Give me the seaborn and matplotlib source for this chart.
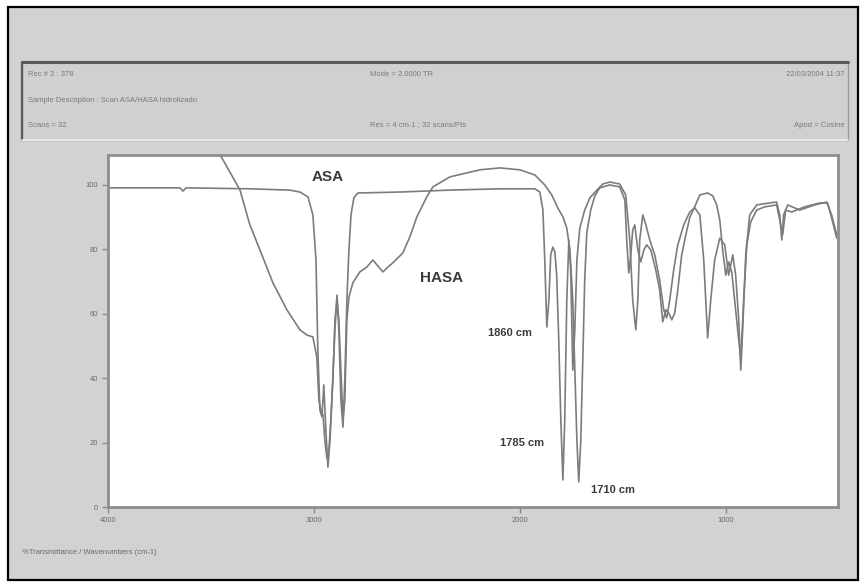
import matplotlib
matplotlib.use("Agg")
import matplotlib.pyplot as plt
from matplotlib.patches import Rectangle
from matplotlib.lines import Line2D
import pandas as pd
import seaborn as sns

# ---- data (wavenumber cm-1, %T) ----
asa_wn = [4000, 3699, 3651, 3636, 3621, 3311, 3117, 3068, 3029, 3005, 2990, 2981, 2971, 2961,
          2952, 2942, 2932, 2922, 2913, 2898, 2888, 2879, 2869, 2859, 2850, 2840, 2830, 2820,
          2806, 2787, 2583, 2340, 2097, 1927, 1903, 1888, 1879, 1869, 1859, 1850, 1840, 1830,
          1821, 1811, 1801, 1791, 1782, 1772, 1762, 1753, 1743, 1733, 1723, 1709, 1685, 1660,
          1626, 1597, 1563, 1515, 1486, 1466, 1452, 1437, 1427, 1418, 1403, 1388, 1369, 1345,
          1321, 1301, 1287, 1272, 1253, 1233, 1204, 1175, 1151, 1126, 1107, 1088, 1073, 1054,
          1029, 1005, 986, 966, 952, 937, 927, 918, 903, 884, 850, 787, 753, 738, 728, 719,
          699, 641, 568, 510, 486, 461]
asa_t = [99.1, 99.1, 99.1, 98.1, 99.1, 98.8, 98.4, 97.8, 96.3, 90.7, 76.7, 48.8, 30.1, 28.0,
         37.9, 23.9, 12.4, 20.8, 33.2, 55.0, 65.8, 55.0, 33.2, 24.8, 39.4, 64.3, 79.8, 90.7,
         96.0, 97.5, 97.8, 98.4, 98.8, 98.8, 97.8, 92.2, 76.7, 55.9, 64.3, 78.3, 80.7, 79.2,
         72.0, 51.9, 27.0, 8.4, 27.0, 64.3, 82.9, 73.6, 42.5, 55.0, 76.7, 86.6, 92.2, 96.0,
         98.4, 100.3, 100.9, 100.3, 96.9, 82.9, 64.3, 55.0, 64.3, 82.9, 90.7, 87.6, 82.9, 78.3,
         70.5, 61.2, 58.7, 64.3, 73.6, 81.4, 87.6, 91.6, 92.9, 90.7, 76.7, 52.5, 64.3, 76.7,
         83.5, 81.4, 72.0, 78.3, 72.0, 58.1, 42.5, 55.0, 78.3, 90.7, 93.8, 94.4, 94.7, 90.7,
         82.9, 90.7, 93.8, 92.2, 93.8, 94.7, 90.7, 84.5]

hasa_wn = [4000, 3553, 3481, 3447, 3408, 3359, 3311, 3262, 3199, 3131, 3068, 3034, 3005, 2986,
           2976, 2966, 2956, 2947, 2937, 2927, 2918, 2908, 2898, 2888, 2879, 2869, 2859, 2850,
           2840, 2830, 2811, 2777, 2743, 2714, 2689, 2665, 2641, 2617, 2568, 2534, 2500, 2452,
           2422, 2340, 2194, 2097, 2000, 1927, 1879, 1845, 1816, 1791, 1772, 1757, 1743, 1733,
           1723, 1714, 1704, 1694, 1685, 1675, 1656, 1636, 1612, 1563, 1515, 1490, 1481, 1471,
           1461, 1452, 1442, 1427, 1413, 1398, 1384, 1364, 1340, 1321, 1306, 1291, 1277, 1262,
           1248, 1233, 1214, 1194, 1175, 1151, 1126, 1088, 1063, 1044, 1029, 1015, 1000, 986,
           971, 957, 942, 927, 913, 898, 879, 850, 811, 753, 738, 724, 709, 680, 617, 544, 505,
           481, 461]
hasa_t = [120.2, 115.5, 110.9, 108.4, 104.0, 98.4, 87.6, 79.8, 69.6, 61.2, 55.0, 53.4, 52.8, 46.6,
          33.2, 30.1, 28.6, 20.8, 15.2, 17.7, 27.0, 39.4, 58.1, 64.3, 58.1, 42.5, 27.0, 33.2,
          58.1, 65.2, 69.6, 73.0, 74.5, 76.7, 74.8, 73.0, 74.5, 75.8, 78.9, 83.9, 90.1, 96.3,
          99.4, 102.5, 104.7, 105.3, 104.7, 103.1, 100.0, 96.9, 92.9, 90.1, 86.6, 79.8, 64.3, 42.5,
          20.8, 7.8, 20.8, 46.6, 70.5, 85.1, 92.2, 96.6, 99.1, 100.0, 99.4, 95.3, 82.9, 72.7,
          78.3, 86.0, 87.6, 79.8, 76.1, 79.8, 81.4, 79.8, 73.6, 67.4, 57.5, 61.2, 60.2, 58.1,
          60.2, 67.4, 78.3, 84.5, 89.8, 93.2, 96.9, 97.5, 96.6, 93.8, 89.1, 79.8, 72.0, 76.1,
          73.0, 64.3, 55.0, 45.7, 64.3, 81.4, 88.5, 92.2, 93.2, 93.8, 89.1, 84.5, 92.2, 91.6, 93.2, 94.4, 94.4,
          88.5, 83.5]

x_ticks = [4000, 3000, 2000, 1000]
y_ticks = [0, 20, 40, 60, 80, 100]

labels = ["ASA", "HASA", "1860 cm", "1785 cm", "1710 cm"]
label_wn = [2932, 2379, 2049, 1990, 1549]
label_t = [102.5, 71.0, 54.0, 20.0, 5.3]
label_size = [11, 11, 8, 8, 8]

header_left = ["Rec # 2 : 378", "Sample Description : Scan ASA/HASA hidrolizado", "Scans = 32"]
header_mid = ["Mode = 2.0000 TR", "", "Res = 4 cm-1 ; 32 scans/Pts"]
header_right = ["22/03/2004 11:37", "", "Apod = Cosine"]
footer = "%Transmittance / Wavenumbers (cm-1)"

df = pd.concat([
    pd.DataFrame({"wn": asa_wn, "t": asa_t, "s": "ASA"}),
    pd.DataFrame({"wn": hasa_wn, "t": hasa_t, "s": "HASA"}),
])

sns.set_style("white")
plt.rcParams["font.family"] = ["Liberation Sans", "DejaVu Sans"]

W, H = 862, 587
fig = plt.figure(figsize=(W / 100, H / 100), dpi=100)
fig.patch.set_facecolor("white")

# outer panel with black border
fig.patches.append(Rectangle((8 / W, 7 / H), 850 / W, 573 / H, transform=fig.transFigure,
                             facecolor="#d2d2d2", edgecolor="black", linewidth=1.6, zorder=-5))
# header box
fig.patches.append(Rectangle((22 / W, 1 - 140 / H), 826 / W, 78 / H, transform=fig.transFigure,
                             facecolor="#d0d0d0", edgecolor="#9a9a9a", linewidth=1.0, zorder=-4))
fig.lines.append(Line2D([22 / W, 848 / W], [1 - 62 / H, 1 - 62 / H], transform=fig.transFigure,
                        color="#5a5a5a", linewidth=2.2, zorder=-3))
fig.lines.append(Line2D([22 / W, 22 / W], [1 - 62 / H, 1 - 140 / H], transform=fig.transFigure,
                        color="#5a5a5a", linewidth=1.6, zorder=-3))
fig.lines.append(Line2D([22 / W, 848 / W], [1 - 140 / H, 1 - 140 / H], transform=fig.transFigure,
                        color="#f2f2f2", linewidth=1.2, zorder=-3))

rows_y = [75, 100, 125]
for i, yy in enumerate(rows_y):
    fy = 1 - yy / H
    fig.text(28 / W, fy, header_left[i], fontsize=5.5, color="#7a7a7a", va="center", ha="left")
    fig.text(370 / W, fy, header_mid[i], fontsize=5.5, color="#7a7a7a", va="center", ha="left")
    fig.text(845 / W, fy, header_right[i], fontsize=5.5, color="#7a7a7a", va="center", ha="right")
fig.text(22 / W, 1 - 553 / H, footer, fontsize=5.5, color="#6a6a6a", va="center", ha="left")

ax = fig.add_axes([108 / W, 1 - 507 / H, 730 / W, 352 / H])
ax.set_zorder(5)
ax.set_facecolor("white")
sns.lineplot(data=df, x="wn", y="t", units="s", estimator=None, sort=False,
             color="#7c7c7c", linewidth=1.2, ax=ax, legend=False)
ax.set_xlim(4000, 455)
ax.set_ylim(0, 109.3)
ax.set_xlabel("")
ax.set_ylabel("")
ax.set_xticks(x_ticks)
ax.set_yticks(y_ticks)
ax.tick_params(axis="both", direction="out", length=4, width=1, color="#8a8a8a",
               labelsize=5.5, labelcolor="#6a6a6a", pad=3, bottom=True, left=True)
for sp in ax.spines.values():
    sp.set_color("#8e8e8e")
    sp.set_linewidth(2.0)

for lab, x, y, s in zip(labels, label_wn, label_t, label_size):
    ax.text(x, y, lab, fontsize=s, fontweight="bold", color="#3a3a3a", ha="center", va="center")

fig.savefig("out.png", dpi=100)
